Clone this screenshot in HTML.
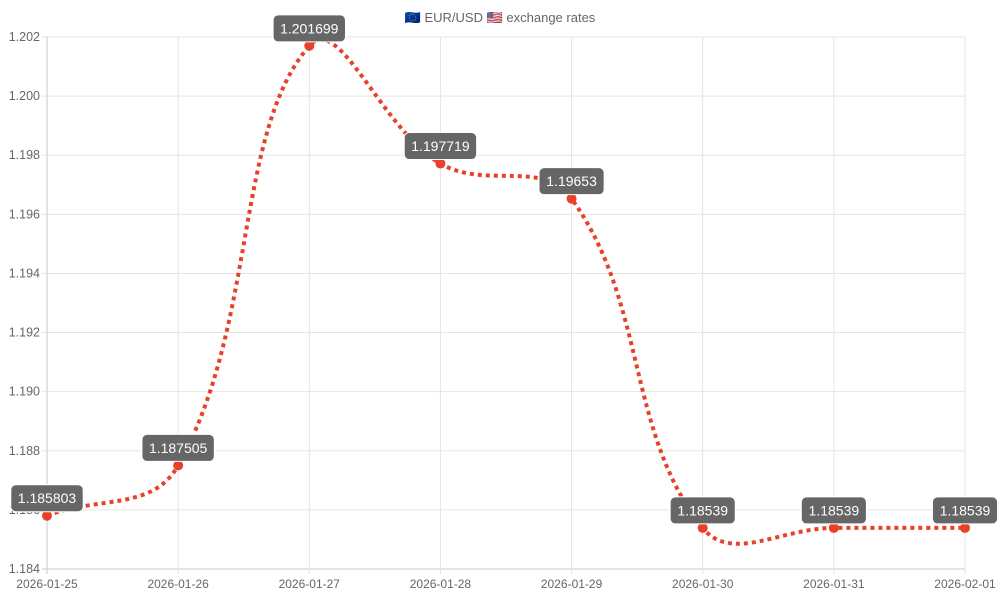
<!DOCTYPE html>
<html><head><meta charset="utf-8"><style>
body{margin:0;background:#fff;}
svg{display:block;font-family:"Liberation Sans",sans-serif;}
</style></head><body>
<svg id="c" width="1000" height="600" xmlns="http://www.w3.org/2000/svg">
<text x="500" y="22" text-anchor="middle" font-size="13" fill="#666">🇪🇺 EUR/USD 🇺🇸 exchange rates</text>
<g id="grid"></g>
<path id="line" fill="none" stroke="#e8412a" stroke-width="4" stroke-dasharray="4,4"/>
<g id="pts"></g>
</svg>
<script>
const svg=document.getElementById('c');
const NS='http://www.w3.org/2000/svg';
const L=47,R=965,T=37,B=569;
const y=v=>B-(v-1.184)/0.018*(B-T);
const dates=['2026-01-25','2026-01-26','2026-01-27','2026-01-28','2026-01-29','2026-01-30','2026-01-31','2026-02-01'];
const vals=[1.185803,1.187505,1.201699,1.197719,1.19653,1.18539,1.18539,1.18539];
const xs=dates.map((d,i)=>L+i*(R-L)/7);
function el(t,a,p,txt){const e=document.createElementNS(NS,t);for(const k in a)e.setAttribute(k,a[k]);if(txt!==undefined)e.textContent=txt;(p||svg).appendChild(e);return e;}
const g=document.getElementById('grid');
for(let i=0;i<=9;i++){const v=1.184+i*0.002,yy=y(v);
el('line',{x1:L-5,x2:R,y1:yy,y2:yy,stroke:i==0?'#c8c8c8':'#e5e5e5','stroke-width':1},g);
el('text',{x:40,y:yy+4,'text-anchor':'end','font-size':12.5,fill:'#666'},g,v.toFixed(3));}
xs.forEach((x,i)=>{el('line',{x1:x,x2:x,y1:T,y2:B+5,stroke:i==0?'#c8c8c8':'#e5e5e5','stroke-width':1},g);
el('text',{x:x,y:588,'text-anchor':'middle','font-size':12,fill:'#666'},g,dates[i]);});
const P=xs.map((x,i)=>({x,y:y(vals[i])}));
const t=0.4;const cps=P.map((c,i)=>{const p=P[i-1]||c,n=P[i+1]||c;
const d01=Math.hypot(c.x-p.x,c.y-p.y),d12=Math.hypot(n.x-c.x,n.y-c.y);
let fa=d01/(d01+d12)||0,fb=d12/(d01+d12)||0;fa*=t;fb*=t;
return {px:c.x-fa*(n.x-p.x),py:c.y-fa*(n.y-p.y),nx:c.x+fb*(n.x-p.x),ny:c.y+fb*(n.y-p.y)};});
let d=`M${P[0].x},${P[0].y}`;
for(let i=1;i<P.length;i++)d+=` C${cps[i-1].nx},${cps[i-1].ny} ${cps[i].px},${cps[i].py} ${P[i].x},${P[i].y}`;
document.getElementById('line').setAttribute('d',d);
const pg=document.getElementById('pts');
P.forEach((p,i)=>{el('circle',{cx:p.x,cy:p.y,r:5,fill:'#e8412a'},pg);
const s=String(vals[i]);const w=s.length*7.3+14;
el('rect',{x:p.x-w/2,y:p.y-31,width:w,height:27,rx:5,fill:'#666',stroke:'#fff','stroke-width':1},pg);
el('text',{x:p.x,y:p.y-12.5,'text-anchor':'middle','font-size':14,fill:'#fff'},pg,s);});
</script>
</body></html>
